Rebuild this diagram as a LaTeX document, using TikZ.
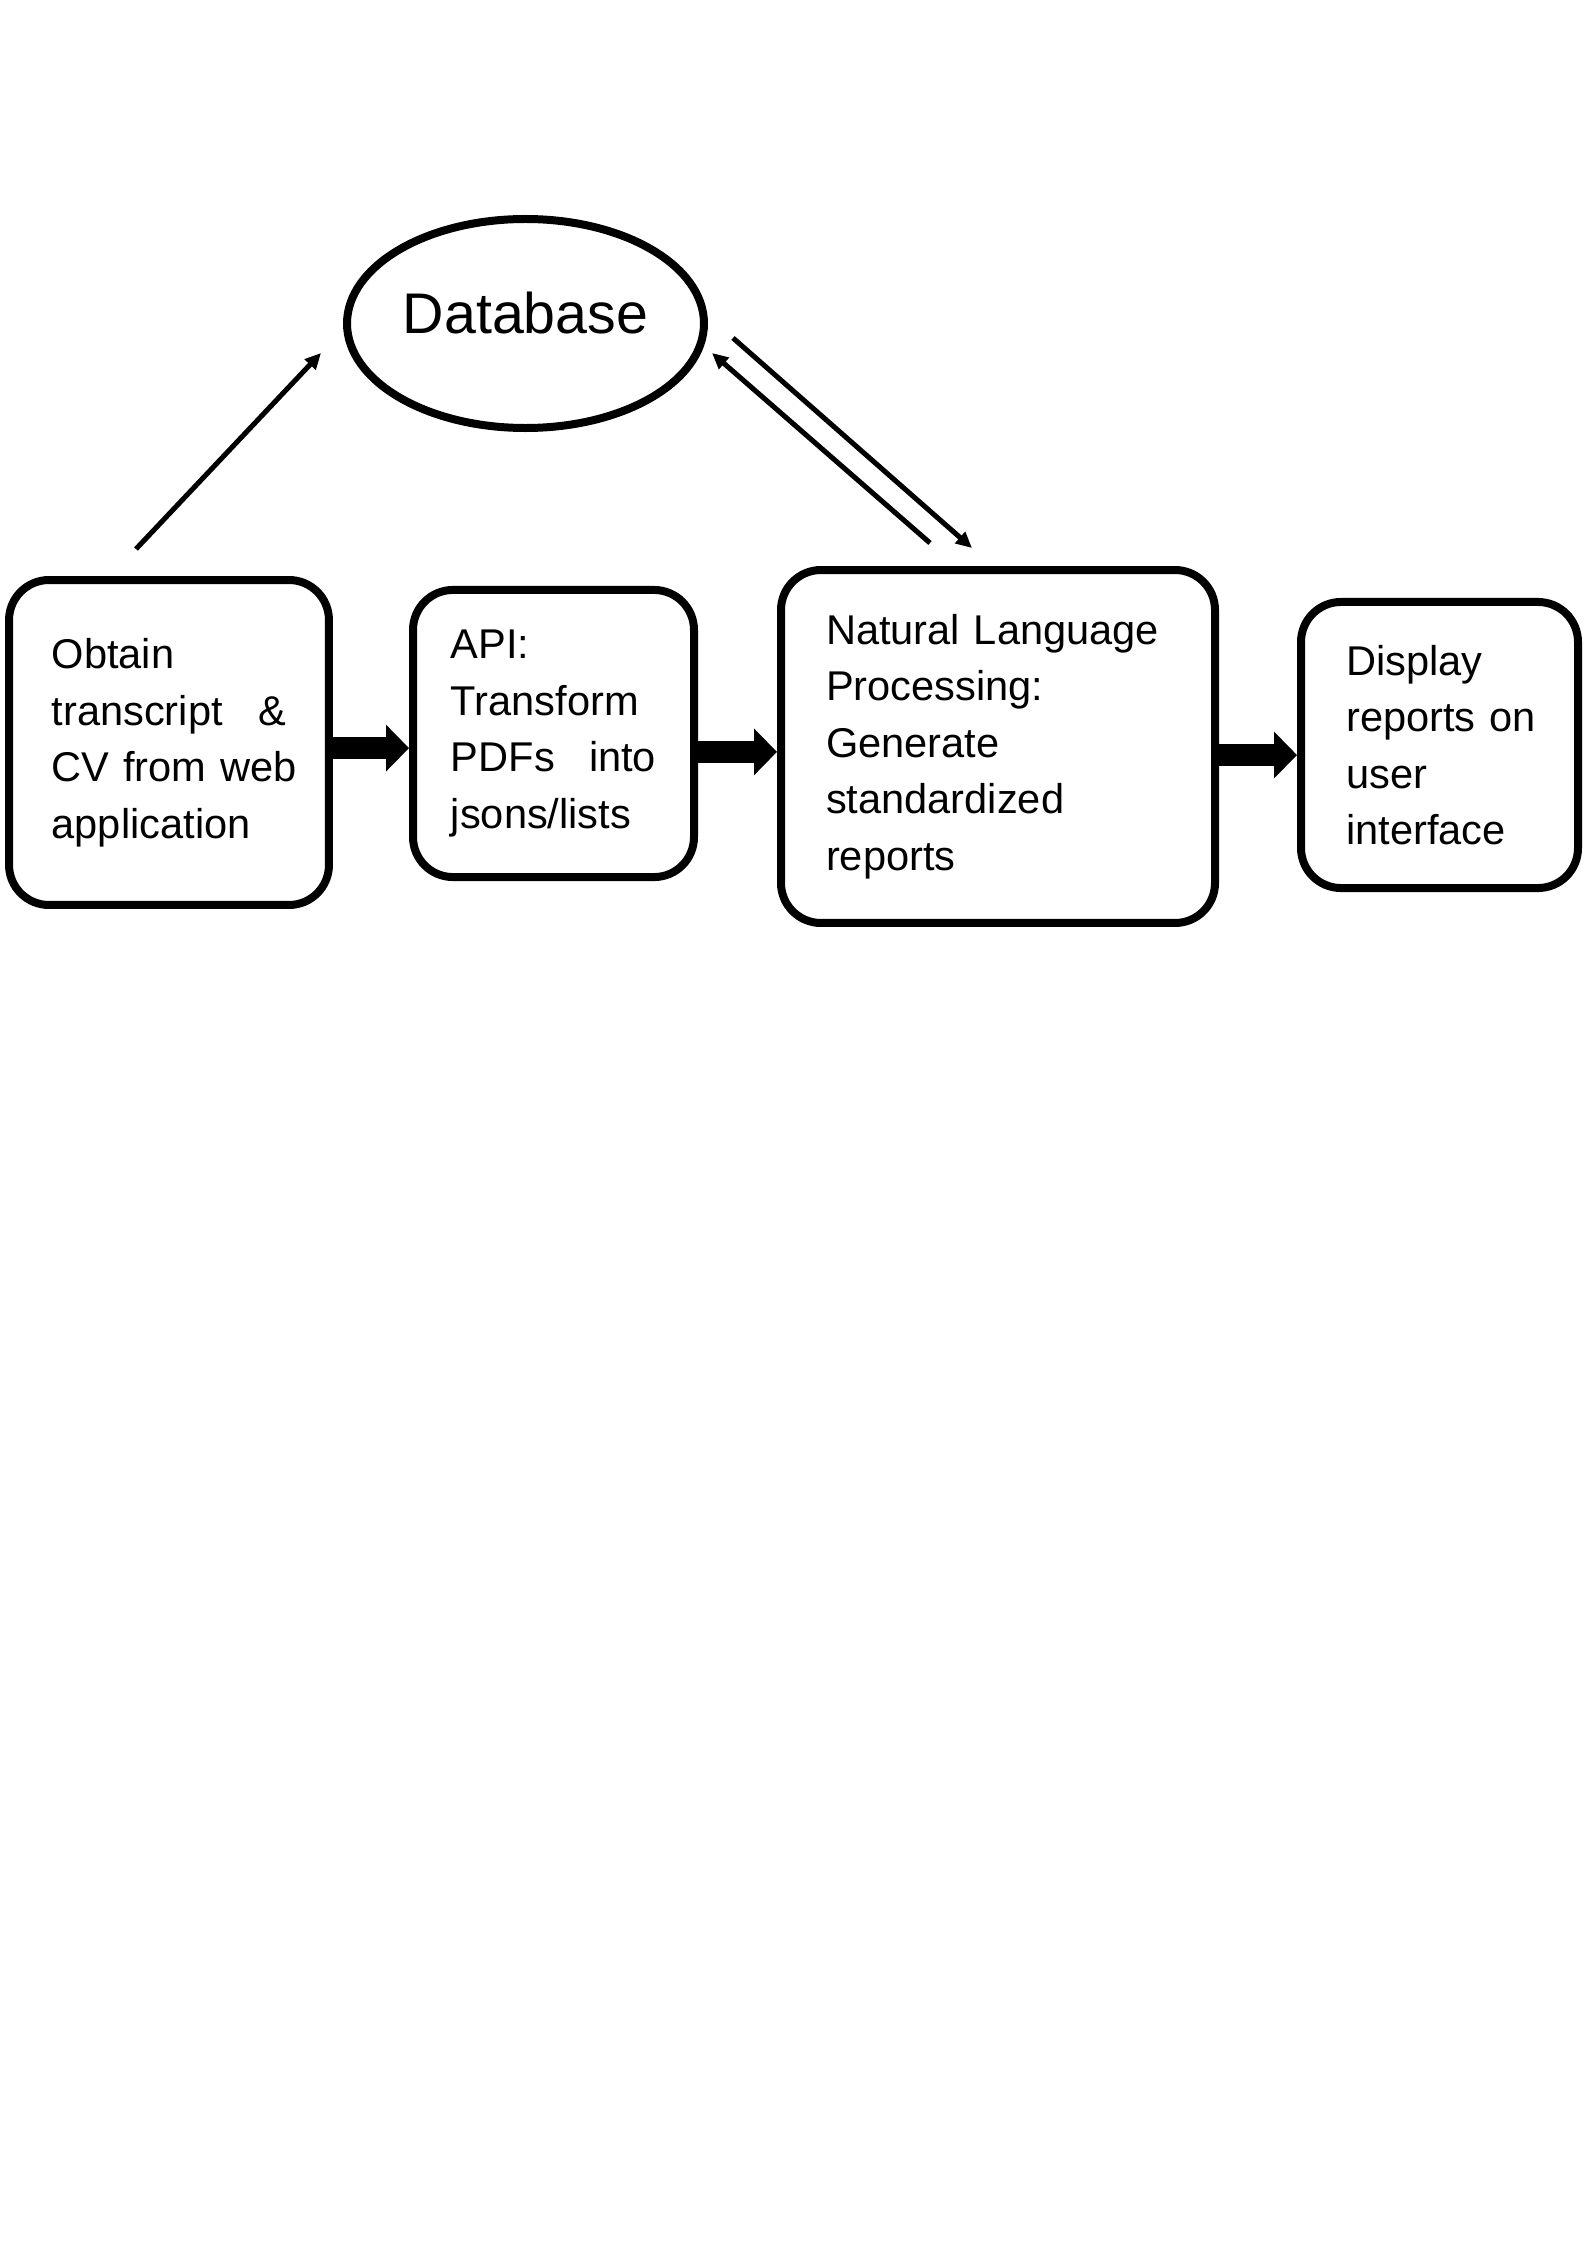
\documentclass[tikz,border=0pt]{standalone}
\usepackage{fontspec}
\setmainfont{Liberation Sans}
\usetikzlibrary{shapes.geometric,arrows.meta}

\tikzset{
	stage/.style={draw,line width=3pt,rounded corners=15pt,inner sep=0pt,align=left,font=\fontsize{15.6}{21.2}\selectfont},
	flow/.style={line width=8.3pt,-{Triangle[length=8.6pt,width=17pt]}},
	link/.style={line width=1.9pt,-{Triangle[length=6pt,width=5.5pt]}}
}

\begin{document}
\begin{tikzpicture}[x=0.3751pt,y=-0.3751pt]
	\useasboundingbox (0,0) rectangle (1587,2246); % A4 page

	\node[draw,ellipse,line width=3pt,inner sep=0pt,minimum width=133.9pt,minimum height=78.4pt,text depth=8.3pt,font=\fontsize{21.5}{26}\selectfont] (db) at (525.5,323.5) {Database}; % database

	\node[stage,minimum width=120pt,minimum height=121.9pt,text width=88pt] (obtain) at (169,742.5) {Obtain\\transcript\hfill\&\\\mbox{CV from web}\\application}; % step 1
	\node[stage,minimum width=105.4pt,minimum height=107.7pt,text width=77pt] (api) at (553.5,733.5) {API:\\Transform\\PDFs\hfill into\\jsons/lists}; % step 2
	\node[stage,minimum width=162.8pt,minimum height=132.4pt,text width=129pt] (nlp) at (998,746.5) {Natural Language\\Processing:\\Generate\\standardized\\reports}; % step 3
	\node[stage,minimum width=103.9pt,minimum height=107.3pt,text width=70pt] (show) at (1439.5,745) {Display\\\mbox{reports on}\\user\\interface}; % step 4

	\coordinate (f1) at ([yshift=-2.1pt]obtain.east);
	\coordinate (f2) at ([yshift=-6.9pt]api.east);
	\coordinate (f3) at ([yshift=-3.2pt]nlp.east);
	\draw[flow] (f1) -- (f1 -| api.west); % obtain -> api
	\draw[flow] (f2) -- (f2 -| nlp.west); % api -> nlp
	\draw[flow] (f3) -- (f3 -| show.west); % nlp -> display

	\coordinate (up1) at (136,549);
	\coordinate (up2) at (321,353);
	\coordinate (dn1) at (733,338);
	\coordinate (dn2) at (972,548);
	\coordinate (bk1) at (930,543);
	\coordinate (bk2) at (712,353);
	\draw[link] (up1) -- (up2); % store inputs
	\draw[link] (dn1) -- (dn2); % db to nlp
	\draw[link] (bk1) -- (bk2); % nlp to db
\end{tikzpicture}
\end{document}
